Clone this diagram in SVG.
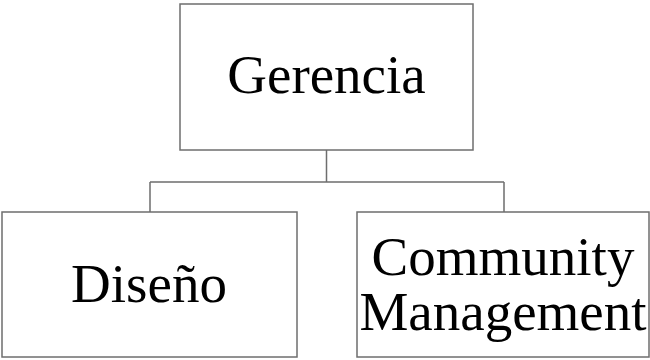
<svg xmlns="http://www.w3.org/2000/svg" width="650" height="360" viewBox="0 0 650 360">
  <style>
    .box { fill: #ffffff; stroke: #6e6e6e; stroke-width: 1.5; }
    .link { fill: none; stroke: #6e6e6e; stroke-width: 1.5; }
    .label { font-family: "Liberation Serif", "Times New Roman", serif; font-size: 55px; fill: #000000; text-anchor: middle; }
  </style>
  <rect width="650" height="360" fill="#ffffff"/>
  <g id="connectors">
    <path class="link" d="M326.5 150 V182 M150 182 H504 M150 182 V212 M504 182 V212"/>
  </g>
  <g id="gerencia">
    <rect class="box" x="180" y="4" width="293" height="146"/>
    <text class="label" x="326.5" y="93">Gerencia</text>
  </g>
  <g id="diseno">
    <rect class="box" x="2" y="212" width="295" height="145"/>
    <text class="label" x="149" y="302">Diseño</text>
  </g>
  <g id="community">
    <rect class="box" x="357" y="212" width="292" height="145"/>
    <text class="label" x="503" y="275">Community</text>
    <text class="label" x="503" y="330">Management</text>
  </g>
</svg>
